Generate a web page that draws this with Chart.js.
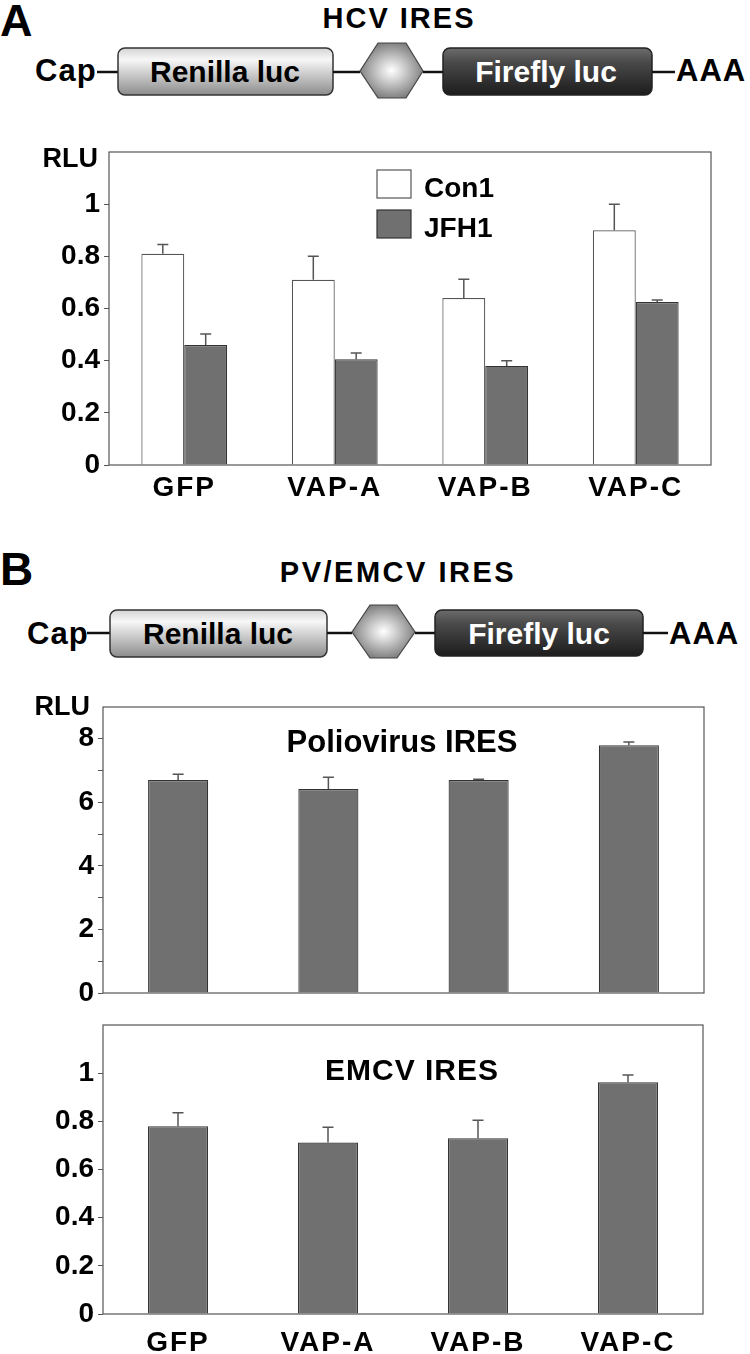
<!DOCTYPE html>
<html lang="en">
<head>
<meta charset="UTF-8">
<title>VAP knockdown - IRES luciferase</title>
<script src="https://cdn.jsdelivr.net/npm/chart.js"></script>
<style>
  body { margin: 0; background: #fff; }
  #page { position: relative; width: 750px; height: 1354px; overflow: hidden; }
  #page svg, #page canvas { position: absolute; left: 0; }
  svg text { font-family: "Liberation Sans", Arial, Helvetica, sans-serif; font-weight: bold; }
</style>
</head>
<body>
<div id="page">
  <!-- construct diagrams -->
  <svg width="750" height="1354" style="top:0">
    <defs>
      <linearGradient id="renGrad" x1="0" y1="0" x2="0" y2="1">
        <stop offset="0" stop-color="#d4d4d4"/>
        <stop offset="0.25" stop-color="#f7f7f7"/>
        <stop offset="1" stop-color="#8c8c8c"/>
      </linearGradient>
      <linearGradient id="fireGrad" x1="0" y1="0" x2="0" y2="1">
        <stop offset="0" stop-color="#6c6c6c"/>
        <stop offset="0.3" stop-color="#4a4a4a"/>
        <stop offset="1" stop-color="#1c1c1c"/>
      </linearGradient>
      <radialGradient id="hexGrad" cx="0.5" cy="0.5" r="0.55">
        <stop offset="0" stop-color="#ffffff"/>
        <stop offset="0.3" stop-color="#d8d8d8"/>
        <stop offset="1" stop-color="#767676"/>
      </radialGradient>
    </defs>

    <!-- A -->
    <text x="0" y="36" font-size="45">A</text>
    <text x="399" y="28" font-size="29" text-anchor="middle" letter-spacing="2">HCV IRES</text>
    <text x="35" y="81" font-size="31" letter-spacing="1">Cap</text>
    <line x1="97" y1="72" x2="118" y2="72" stroke="#111" stroke-width="2.5"/>
    <rect x="118" y="48" width="215" height="47" rx="7" fill="url(#renGrad)" stroke="#333" stroke-width="1.5"/>
    <text x="225" y="82" font-size="30" text-anchor="middle">Renilla luc</text>
    <line x1="333" y1="72" x2="360" y2="72" stroke="#111" stroke-width="2.5"/>
    <polygon points="360,71 378,43 406,43 423,71 406,98 378,98" fill="url(#hexGrad)" stroke="#444" stroke-width="1.2"/>
    <line x1="423" y1="72" x2="443" y2="72" stroke="#111" stroke-width="2.5"/>
    <rect x="443" y="48" width="209" height="47" rx="7" fill="url(#fireGrad)" stroke="#222" stroke-width="1.5"/>
    <text x="546" y="82" font-size="30" text-anchor="middle" fill="#fff">Firefly luc</text>
    <line x1="652" y1="72" x2="675" y2="72" stroke="#111" stroke-width="2.5"/>
    <text x="676" y="81" font-size="31" letter-spacing="1">AAA</text>

    <!-- B -->
    <text x="0" y="585" font-size="46">B</text>
    <text x="398" y="582" font-size="29" text-anchor="middle" letter-spacing="2.5">PV/EMCV IRES</text>
    <text x="27" y="644" font-size="31" letter-spacing="1">Cap</text>
    <line x1="87" y1="633" x2="110" y2="633" stroke="#111" stroke-width="2.5"/>
    <rect x="110" y="610" width="217" height="47" rx="7" fill="url(#renGrad)" stroke="#333" stroke-width="1.5"/>
    <text x="218" y="644" font-size="30" text-anchor="middle">Renilla luc</text>
    <line x1="327" y1="633" x2="352" y2="633" stroke="#111" stroke-width="2.5"/>
    <polygon points="352,632 370,605 397,605 415,632 397,658 370,658" fill="url(#hexGrad)" stroke="#444" stroke-width="1.2"/>
    <line x1="415" y1="633" x2="435" y2="633" stroke="#111" stroke-width="2.5"/>
    <rect x="435" y="610" width="208" height="46" rx="7" fill="url(#fireGrad)" stroke="#222" stroke-width="1.5"/>
    <text x="539" y="644" font-size="30" text-anchor="middle" fill="#fff">Firefly luc</text>
    <line x1="643" y1="633" x2="668" y2="633" stroke="#111" stroke-width="2.5"/>
    <text x="669" y="644" font-size="31" letter-spacing="1">AAA</text>
  </svg>

  <canvas id="chartA" width="750" height="380" style="top:140px"></canvas>
  <canvas id="chartPV" width="750" height="330" style="top:690px"></canvas>
  <canvas id="chartEMCV" width="750" height="344" style="top:1010px"></canvas>
</div>

<script>
// dados
const labels = ['GFP', 'VAP-A', 'VAP-B', 'VAP-C'];

const con1 = [0.81, 0.71, 0.64, 0.90];
const con1Err = [0.035, 0.09, 0.072, 0.10];
const jfh1 = [0.46, 0.405, 0.38, 0.625];
const jfh1Err = [0.042, 0.024, 0.02, 0.008];

const polio = [6.7, 6.42, 6.7, 7.8];
const polioErr = [0.18, 0.37, 0.03, 0.1];

const emcv = [0.78, 0.712, 0.73, 0.962];
const emcvErr = [0.056, 0.063, 0.075, 0.03];

const FONT = '"Liberation Sans", Arial, Helvetica, sans-serif';
const GRAY = '#707070';

Chart.defaults.font.family = FONT;
Chart.defaults.color = '#000';

// barras de erro (so para cima)
const errorBars = {
  id: 'errorBars',
  afterDatasetsDraw(chart) {
    const ctx = chart.ctx;
    const y = chart.scales.y;
    ctx.save();
    ctx.strokeStyle = '#555';
    ctx.lineWidth = 1.5;
    chart.data.datasets.forEach((ds, i) => {
      if (!ds.errors) return;
      chart.getDatasetMeta(i).data.forEach((bar, j) => {
        const top = y.getPixelForValue(ds.data[j] + ds.errors[j]);
        ctx.beginPath();
        ctx.moveTo(bar.x, bar.y);
        ctx.lineTo(bar.x, top);
        ctx.moveTo(bar.x - 5.5, top);
        ctx.lineTo(bar.x + 5.5, top);
        ctx.stroke();
      });
    });
    ctx.restore();
  }
};

// moldura em volta da area do grafico
const frame = {
  id: 'frame',
  afterDraw(chart) {
    const a = chart.chartArea;
    const ctx = chart.ctx;
    ctx.save();
    ctx.strokeStyle = '#555';
    ctx.lineWidth = 1.2;
    ctx.strokeRect(a.left, a.top, a.right - a.left, a.bottom - a.top);
    ctx.restore();
  }
};

Chart.register(errorBars, frame);

// textos soltos dentro do canvas
function notes(items) {
  return {
    id: 'notes',
    afterDraw(chart) {
      const ctx = chart.ctx;
      ctx.save();
      items.forEach(it => {
        if (it.box) {
          ctx.fillStyle = it.fill;
          ctx.strokeStyle = it.stroke;
          ctx.lineWidth = 1.2;
          ctx.fillRect(it.x, it.y, it.w, it.h);
          ctx.strokeRect(it.x, it.y, it.w, it.h);
          return;
        }
        ctx.font = 'bold ' + it.size + 'px ' + FONT;
        ctx.fillStyle = '#000';
        ctx.textAlign = it.align || 'left';
        ctx.textBaseline = 'alphabetic';
        ctx.letterSpacing = (it.spacing || 0) + 'px';
        ctx.fillText(it.text, it.x, it.y);
      });
      ctx.restore();
    }
  };
}

function yAxis(max, step, width, fmt) {
  return {
    min: 0,
    max: max,
    // largura fixa e sem folga extra em cima/embaixo
    afterFit: s => { s.width = width; s.paddingTop = 0; s.paddingBottom = 0; },
    border: { display: false },
    grid: { drawOnChartArea: false, drawTicks: true, tickLength: 5, color: '#555' },
    ticks: { stepSize: step, autoSkip: false, padding: 4, font: { size: 28, weight: 'bold' }, color: '#000', callback: fmt }
  };
}

function xAxis(show, height, pad) {
  const ax = {
    border: { display: false },
    grid: { display: false, drawTicks: false },
    ticks: { display: show, padding: pad, font: { size: 28, weight: 'bold' }, color: '#000', maxRotation: 0 }
  };
  if (show) {
    ax.afterFit = s => {
      s.height = height;
      if (!s._spaced) {
        // rotulos do eixo x um pouco espacados, como na figura
        const orig = s.drawLabels.bind(s);
        s.drawLabels = function (area) {
          this.ctx.save();
          this.ctx.letterSpacing = '2px';
          orig(area);
          this.ctx.restore();
        };
        s._spaced = true;
      }
    };
  }
  return ax;
}

const baseOpts = {
  responsive: false,
  animation: false,
  devicePixelRatio: 1,
  events: [],
  plugins: { legend: { display: false }, tooltip: { enabled: false } }
};

const fmtRLU = v => (v > 1.1 ? null : String(+v.toFixed(1)));

new Chart(document.getElementById('chartA'), {
  type: 'bar',
  data: {
    labels: labels,
    datasets: [
      { label: 'Con1', data: con1, errors: con1Err, backgroundColor: '#fff', borderColor: '#555', borderWidth: 1.2 },
      { label: 'JFH1', data: jfh1, errors: jfh1Err, backgroundColor: GRAY, borderColor: '#333', borderWidth: 1.2 }
    ]
  },
  options: Object.assign({}, baseOpts, {
    layout: { padding: { left: 0, right: 39, top: 12, bottom: 0 } },
    datasets: { bar: { categoryPercentage: 0.57, barPercentage: 1 } },
    scales: { x: xAxis(true, 55, 6), y: yAxis(1.2, 0.2, 109, fmtRLU) }
  }),
  plugins: [notes([
    { text: 'RLU', x: 98, y: 27, size: 27, align: 'right' },
    { box: true, x: 377, y: 30, w: 34, h: 28, fill: '#fff', stroke: '#555' },
    { box: true, x: 377, y: 70, w: 34, h: 28, fill: GRAY, stroke: '#333' },
    { text: 'Con1', x: 424, y: 57, size: 28 },
    { text: 'JFH1', x: 424, y: 97, size: 28 }
  ])]
});

new Chart(document.getElementById('chartPV'), {
  type: 'bar',
  data: {
    labels: labels,
    datasets: [{ label: 'Poliovirus IRES', data: polio, errors: polioErr, backgroundColor: GRAY, borderColor: '#333', borderWidth: 1.2 }]
  },
  options: Object.assign({}, baseOpts, {
    layout: { padding: { left: 0, right: 46, top: 17, bottom: 27 } },
    datasets: { bar: { categoryPercentage: 1, barPercentage: 0.4 } },
    scales: {
      x: xAxis(false, 0, 0),
      y: yAxis(9, 1, 103, v => (v >= 9 ? null : (v % 2 === 0 ? String(v) : '')))
    }
  }),
  plugins: [notes([
    { text: 'RLU', x: 90, y: 25, size: 27, align: 'right' },
    { text: 'Poliovirus IRES', x: 402, y: 62, size: 31, align: 'center' }
  ])]
});

new Chart(document.getElementById('chartEMCV'), {
  type: 'bar',
  data: {
    labels: labels,
    datasets: [{ label: 'EMCV IRES', data: emcv, errors: emcvErr, backgroundColor: GRAY, borderColor: '#333', borderWidth: 1.2 }]
  },
  options: Object.assign({}, baseOpts, {
    layout: { padding: { left: 0, right: 47, top: 15, bottom: 0 } },
    datasets: { bar: { categoryPercentage: 1, barPercentage: 0.4 } },
    scales: { x: xAxis(true, 40, 12), y: yAxis(1.2, 0.2, 103, fmtRLU) }
  }),
  plugins: [notes([
    { text: 'EMCV IRES', x: 412, y: 70, size: 30, align: 'center', spacing: 1 }
  ])]
});
</script>
</body>
</html>
